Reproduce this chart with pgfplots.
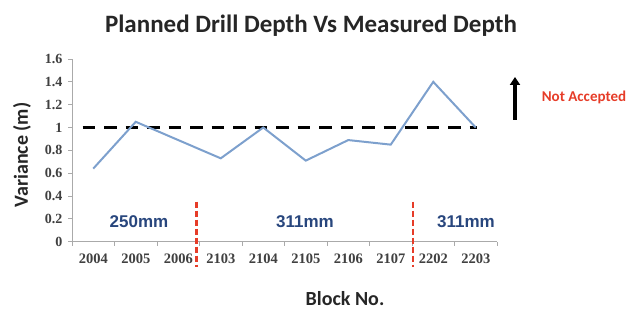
\documentclass[border=0pt]{standalone}
\usepackage{pgfplots}
\pgfplotsset{compat=1.18}
\usetikzlibrary{arrows.meta}
\usepackage{fontspec}
\setmainfont{Carlito}
\newfontfamily\tickfont{Liberation Serif}
\newfontfamily\arialfont{Liberation Sans}
\definecolor{lineblue}{RGB}{125,160,205}
\definecolor{txtblue}{RGB}{40,70,125}
\definecolor{redd}{RGB}{230,60,40}
\definecolor{axgray}{RGB}{170,170,170}
\begin{document}
\begin{tikzpicture}[x=1pt,y=1pt]
\useasboundingbox (0,0) rectangle (633,310);
\begin{axis}[
  at={(72pt,68.3pt)}, anchor=south west,
  scale only axis, width=425pt, height=182.7pt,
  xmin=-0.5, xmax=9.5, ymin=0, ymax=1.6,
  clip=false,
  axis x line=bottom, axis y line=left,
  axis line style={-, axgray, line width=0.8pt},
  xtick={0,...,9},
  xticklabels={2004,2005,2006,2103,2104,2105,2106,2107,2202,2203},
  major x tick style={draw=none},
  minor xtick={-0.5,0.5,...,9.5},
  minor x tick style={axgray, line width=0.8pt},
  minor tick length=4pt,
  ytick={0,0.2,...,1.6},
  yticklabels={0,0.2,0.4,0.6,0.8,1,1.2,1.4,1.6},
  major y tick style={axgray, line width=0.8pt},
  major tick length=4pt,
  tick align=outside,
  xticklabel style={font=\tickfont\bfseries\fontsize{14.5}{14.5}\selectfont, yshift=-5pt, text=black!75},
  yticklabel style={font=\tickfont\bfseries\fontsize{14}{14}\selectfont, text=black!75, xshift=-2pt},
]
\addplot[black, line width=3.6pt, dash pattern=on 12.5pt off 9pt] coordinates {(-0.25,1) (9.03,1)};
\addplot[lineblue, line width=2pt] coordinates {
(0,0.64) (1,1.05) (2,0.89) (3,0.73) (4,1.0) (5,0.71) (6,0.89) (7,0.85) (8,1.40) (9,1.0)};
\addplot[redd, line width=2.2pt, dash pattern=on 6pt off 3pt] coordinates {(2.43,0.35) (2.43,-0.22)};
\addplot[redd, line width=2.2pt, dash pattern=on 6pt off 3pt] coordinates {(7.53,0.35) (7.53,-0.22)};
\end{axis}
\node[font=\bfseries\fontsize{25}{25}\selectfont, text=black!85] at (311,284) {Planned Drill Depth Vs Measured Depth};
\node[font=\bfseries\fontsize{20}{20}\selectfont, rotate=90, text=black!85] at (22,155) {Variance (m)};
\node[font=\bfseries\fontsize{20}{20}\selectfont, text=black!85] at (345,11) {Block No.};
\node[font=\arialfont\bfseries\fontsize{17}{17}\selectfont, text=txtblue] at (139,88.3) {250mm};
\node[font=\arialfont\bfseries\fontsize{17}{17}\selectfont, text=txtblue] at (305,88.3) {311mm};
\node[font=\arialfont\bfseries\fontsize{17}{17}\selectfont, text=txtblue] at (466,88.3) {311mm};
\draw[black, line width=4pt, -{Triangle[length=8pt,width=10pt]}] (515,190) -- (515,233);
\node[font=\bfseries\fontsize{15}{15}\selectfont, text=redd] at (584,213) {Not Accepted};
\end{tikzpicture}
\end{document}
